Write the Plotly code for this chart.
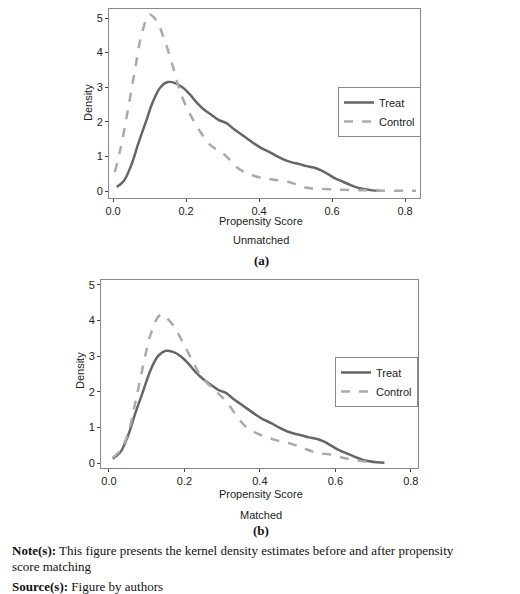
import plotly.graph_objects as go

treat_x = [0.01,0.03,0.05,0.07,0.09,0.11,0.13,0.15,0.17,0.19,0.21,0.23,0.25,0.27,0.29,0.31,0.33,0.35,0.37,0.39,0.41,0.43,0.45,0.47,0.49,0.51,0.53,0.55,0.57,0.59,0.61,0.63,0.65,0.67,0.69,0.71,0.73]
treat_y = [0.12,0.3,0.75,1.4,2.0,2.6,3.0,3.15,3.12,3.0,2.8,2.55,2.35,2.2,2.05,1.97,1.8,1.65,1.5,1.35,1.22,1.12,1.0,0.9,0.83,0.78,0.72,0.68,0.6,0.48,0.36,0.27,0.18,0.1,0.05,0.02,0.01]
ctrl_u_x = [0.005,0.02,0.04,0.06,0.08,0.10,0.12,0.14,0.16,0.18,0.20,0.22,0.24,0.26,0.28,0.30,0.32,0.34,0.36,0.38,0.40,0.42,0.44,0.46,0.48,0.50,0.52,0.54,0.56,0.60,0.65,0.70,0.75,0.83]
ctrl_u_y = [0.55,1.2,2.3,3.5,4.6,5.1,4.9,4.4,3.75,3.0,2.45,2.05,1.7,1.4,1.22,1.1,0.9,0.68,0.55,0.46,0.4,0.36,0.33,0.3,0.27,0.2,0.12,0.08,0.07,0.05,0.03,0.02,0.01,0.01]
ctrl_m_x = [0.01,0.03,0.05,0.07,0.09,0.11,0.13,0.14,0.16,0.18,0.20,0.22,0.24,0.26,0.28,0.30,0.32,0.34,0.36,0.38,0.40,0.42,0.44,0.46,0.48,0.50,0.52,0.54,0.56,0.58,0.60,0.62,0.64,0.66,0.68,0.70]
ctrl_m_y = [0.15,0.35,0.8,1.7,2.7,3.6,4.1,4.18,4.0,3.7,3.3,2.9,2.5,2.25,2.05,1.85,1.6,1.3,1.05,0.9,0.8,0.72,0.65,0.6,0.55,0.48,0.4,0.32,0.27,0.25,0.2,0.15,0.1,0.07,0.04,0.02]
x_ticks = [0, 0.2, 0.4, 0.6, 0.8]
x_labels = ["0.0", "0.2", "0.4", "0.6", "0.8"]
y_ticks = [0, 1, 2, 3, 4, 5]

W, H = 520, 594
TC, CC = "#666666", "#aaaaaa"
fig = go.Figure()
fig.add_trace(go.Scatter(x=treat_x, y=treat_y, mode="lines", line=dict(color=TC, width=2.5, shape="spline"), name="Treat", legend="legend"))
fig.add_trace(go.Scatter(x=ctrl_u_x, y=ctrl_u_y, mode="lines", line=dict(color=CC, width=2.5, dash="dash", shape="spline"), name="Control", legend="legend"))
fig.add_trace(go.Scatter(x=treat_x, y=treat_y, mode="lines", line=dict(color=TC, width=2.5, shape="spline"), name="Treat", xaxis="x2", yaxis="y2", legend="legend2"))
fig.add_trace(go.Scatter(x=ctrl_m_x, y=ctrl_m_y, mode="lines", line=dict(color=CC, width=2.5, dash="dash", shape="spline"), name="Control", xaxis="x2", yaxis="y2", legend="legend2"))

def px(x0, x1): return [x0 / W, x1 / W]
def py(y0, y1): return [1 - y1 / H, 1 - y0 / H]
ax = dict(showline=True, mirror=True, linecolor="#888888", ticks="outside", ticklen=3, tickcolor="#444", automargin=False,
          showgrid=False, zeroline=False, tickfont=dict(family="Liberation Sans, Arial", size=11, color="#222"))
fig.update_layout(
    width=W, height=H, margin=dict(l=0, r=0, t=0, b=0, pad=0, autoexpand=False), paper_bgcolor="white", plot_bgcolor="white", showlegend=True,
    xaxis=dict(ax, domain=px(101, 412), range=[-0.011, 0.841], tickvals=x_ticks, ticktext=x_labels, anchor="y"),
    yaxis=dict(ax, domain=py(1, 190), range=[-0.2, 5.26], tickvals=y_ticks, anchor="x"),
    xaxis2=dict(ax, domain=px(93, 410), range=[-0.021, 0.819], tickvals=x_ticks, ticktext=x_labels, anchor="y2"),
    yaxis2=dict(ax, domain=py(272, 460), range=[-0.14, 5.14], tickvals=y_ticks, anchor="x2"),
    legend=dict(x=330 / W, y=1 - 79 / H, xanchor="left", yanchor="top", bordercolor="#888", borderwidth=1,
                font=dict(family="Liberation Sans, Arial", size=11, color="#222"), bgcolor="white", tracegroupgap=0),
    legend2=dict(x=327 / W, y=1 - 349 / H, xanchor="left", yanchor="top", bordercolor="#888", borderwidth=1,
                 font=dict(family="Liberation Sans, Arial", size=11, color="#222"), bgcolor="white", tracegroupgap=0),
)
sans = dict(family="Liberation Sans, Arial", size=11, color="#222")
serif = dict(family="Liberation Serif, Times New Roman", size=13, color="#111")
def txt(t, x, y, font, anchor="center", angle=0):
    fig.add_annotation(text=t, x=x / W, y=1 - y / H, xref="paper", yref="paper", showarrow=False, font=font,
                       xanchor=anchor, yanchor="middle", textangle=angle)
txt("Density", 80, 95, sans, angle=-90)
txt("Propensity Score", 253, 213, sans)
txt("Unmatched", 253, 232, sans)
txt("<b>(a)</b>", 253, 252, serif)
txt("Density", 72, 363, sans, angle=-90)
txt("Propensity Score", 253, 486, sans)
txt("Matched", 253, 507, sans)
txt("<b>(b)</b>", 253, 522, serif)
txt("<b>Note(s):</b> This figure presents the kernel density estimates before and after propensity", 2, 542, serif, "left")
txt("score matching", 2, 558, serif, "left")
txt("<b>Source(s):</b> Figure by authors", 2, 578, serif, "left")
fig.write_html("out.html")
